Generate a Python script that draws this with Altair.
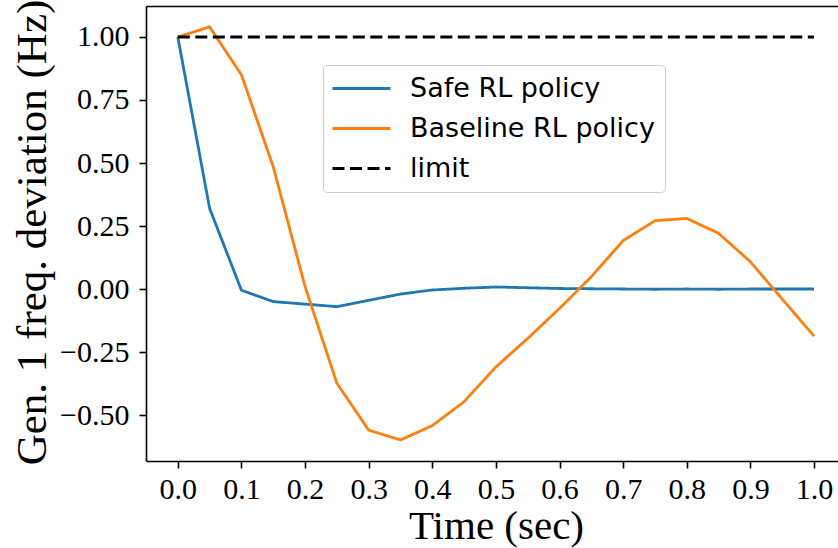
import altair as alt
import pandas as pd

# ---- data ----
time_s = [0.0, 0.05, 0.1, 0.15, 0.2, 0.25, 0.3, 0.35, 0.4, 0.45, 0.5,
          0.55, 0.6, 0.65, 0.7, 0.75, 0.8, 0.85, 0.9, 0.95, 1.0]
safe_rl = [1.0, 0.32, -0.005, -0.05, -0.06, -0.07, -0.045, -0.02, -0.004, 0.003, 0.008,
           0.005, 0.002, 0.001, 0.0, -0.001, 0.0, -0.001, 0.0, 0.0, 0.0]
baseline_rl = [1.0, 1.04, 0.85, 0.485, 0.01, -0.374, -0.56, -0.599, -0.542, -0.447, -0.309,
               -0.196, -0.077, 0.049, 0.192, 0.271, 0.28, 0.221, 0.108, -0.04, -0.187]
limit_t = [0.0, 1.0]
limit_v = [1.0, 1.0]

series_names = ["Safe RL policy", "Baseline RL policy", "limit"]
series_colors = ["#1f77b4", "#ff7f0e", "#000000"]
series_dash = [[1, 0], [1, 0], [12, 5.5]]

x_ticks = [0.0, 0.1, 0.2, 0.3, 0.4, 0.5, 0.6, 0.7, 0.8, 0.9, 1.0]
y_ticks = [-0.5, -0.25, 0.0, 0.25, 0.5, 0.75, 1.0]

rows = []
for t, v in zip(time_s, safe_rl):
    rows.append({"t": t, "v": v, "series": series_names[0], "order": 0})
for t, v in zip(time_s, baseline_rl):
    rows.append({"t": t, "v": v, "series": series_names[1], "order": 1})
for t, v in zip(limit_t, limit_v):
    rows.append({"t": t, "v": v, "series": series_names[2], "order": 2})
df = pd.DataFrame(rows)

x_scale = alt.Scale(domain=[-0.05, 1.0377], nice=False, zero=False)
y_scale = alt.Scale(domain=[-0.6825, 1.123], nice=False, zero=False)

serif = "Liberation Serif"

y_axis = alt.Axis(values=y_ticks, format=".2f",
                  title="Gen. 1 freq. deviation (Hz)",
                  titleFontSize=43,
                  titleX=-101, titleY=226, titleAngle=-90,
                  titleBaseline="alphabetic", titleAlign="center",
                  labelPadding=10)

lines = alt.Chart(df).mark_line(strokeWidth=2.8, clip=True).encode(
    x=alt.X("t:Q", scale=x_scale,
            axis=alt.Axis(values=x_ticks, format=".1f", title="Time (sec)",
                          titleX=350, titleY=77.5, titleBaseline="alphabetic",
                          titleAlign="center", labelPadding=6)),
    y=alt.Y("v:Q", scale=y_scale, axis=y_axis),
    color=alt.Color("series:N",
                    scale=alt.Scale(domain=series_names, range=series_colors),
                    legend=alt.Legend(title=None)),
    strokeDash=alt.StrokeDash("series:N",
                              scale=alt.Scale(domain=series_names, range=series_dash),
                              legend=alt.Legend(title=None)),
    order=alt.Order("order:Q"),
)

top_frame = alt.Chart(df).mark_line(opacity=0).encode(
    x=alt.X("t:Q", scale=x_scale,
            axis=alt.Axis(orient="top", labels=False, ticks=False, domain=True,
                          grid=False, title=None)),
    y=alt.Y("v:Q", scale=y_scale, axis=y_axis),
)

chart = alt.layer(lines, top_frame).resolve_axis(x="independent").properties(
    width=692,
    height=455,
    autosize=alt.AutoSizeParams(type="none"),
    padding={"left": 146, "top": 6, "right": 0, "bottom": 87},
).configure_view(stroke=None).configure_axis(
    grid=False,
    domainColor="black",
    domainWidth=1.6,
    tickColor="black",
    tickWidth=1.6,
    tickSize=7,
    labelFont=serif,
    labelFontSize=30,
    labelColor="black",
    titleFont=serif,
    titleFontSize=41,
    titleFontWeight="normal",
    titleColor="black",
).configure_legend(
    orient="none",
    legendX=177,
    legendY=59,
    fillColor="white",
    strokeColor="#cccccc",
    cornerRadius=4,
    padding=10,
    labelFont="DejaVu Sans",
    labelFontSize=27,
    labelColor="black",
    symbolType="M -1.4 0 H 4.4",
    symbolSize=400,
    symbolStrokeWidth=2.8,
    labelOffset=50,
    rowPadding=12,
    labelLimit=400,
)

chart.save("out.html", embed_options={"renderer": "svg", "actions": False})
